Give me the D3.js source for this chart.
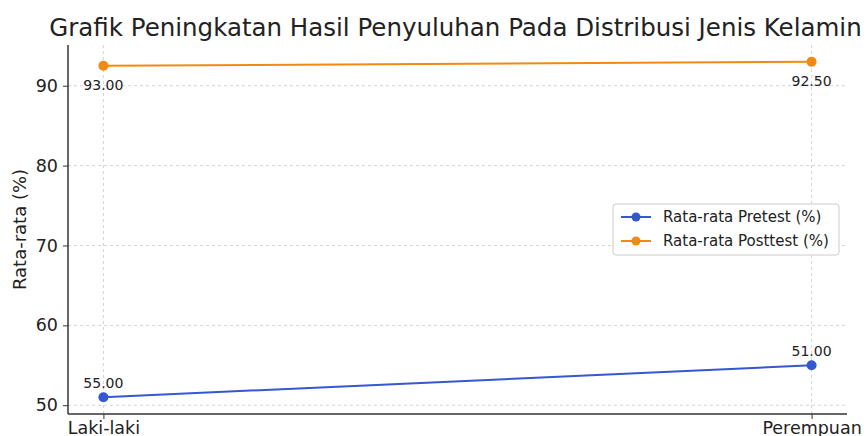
<!DOCTYPE html>
<html>
<head>
<meta charset="utf-8">
<script src="https://cdn.jsdelivr.net/npm/d3@7"></script>
<style>
  body { margin: 0; background: #fff; }
  svg { font-family: "DejaVu Sans", sans-serif; }
</style>
</head>
<body>
<div id="chart"></div>
<script>
// data
const categories = ["Laki-laki", "Perempuan"];
const pretest = [51, 55];
const posttest = [92.5, 93];
// the printed labels in the original do not match the plotted points
const pretestLabels = ["55.00", "51.00"];
const posttestLabels = ["93.00", "92.50"];
const yTicks = [50, 60, 70, 80, 90];
const seriesNames = ["Rata-rata Pretest (%)", "Rata-rata Posttest (%)"];
const seriesColors = ["#3457d2", "#f08a12"];

const width = 867, height = 436;
const margin = { top: 45, right: 20, bottom: 22, left: 68 };
const plotW = width - margin.left - margin.right,
    plotH = height - margin.top - margin.bottom;

const svg = d3.select("#chart").append("svg")
    .attr("width", width)
    .attr("height", height);

const g = svg.append("g")
    .attr("transform", `translate(${margin.left}, ${margin.top})`);

// matplotlib-ish 5% margins
const x = d3.scalePoint()
    .domain(categories)
    .range([plotW * 0.05 / 1.1, plotW - plotW * 0.05 / 1.1]);

const allVals = pretest.concat(posttest);
const lo = d3.min(allVals), hi = d3.max(allVals), pad = (hi - lo) * 0.05;
const y = d3.scaleLinear()
    .domain([lo - pad, hi + pad])
    .range([plotH, 0]);

// grid
g.append("g").selectAll("line.hg")
  .data(yTicks)
  .enter().append("line")
    .attr("x1", 0).attr("x2", plotW)
    .attr("y1", d => y(d)).attr("y2", d => y(d))
    .attr("stroke", "#d4d4d4").attr("stroke-width", 1)
    .attr("stroke-dasharray", "3,3");

g.append("g").selectAll("line.vg")
  .data(categories)
  .enter().append("line")
    .attr("x1", d => x(d)).attr("x2", d => x(d))
    .attr("y1", 0).attr("y2", plotH)
    .attr("stroke", "#d4d4d4").attr("stroke-width", 1)
    .attr("stroke-dasharray", "3,3");

// axes
const yAxis = g.append("g")
    .call(d3.axisLeft(y).tickValues(yTicks).tickSize(5).tickPadding(5));
const xAxis = g.append("g")
    .attr("transform", `translate(0, ${plotH})`)
    .call(d3.axisBottom(x).tickSize(5).tickPadding(3));

[yAxis, xAxis].forEach(a => {
    a.select(".domain").attr("stroke", "#333").attr("stroke-width", 1.5);
    a.selectAll(".tick line").attr("stroke", "#333");
    a.selectAll("text")
        .attr("font-family", "DejaVu Sans, sans-serif")
        .attr("font-size", 17.5)
        .attr("fill", "#222");
});
// remove outer ticks from the domain path
yAxis.select(".domain").attr("d", `M0,0V${plotH}`);
xAxis.select(".domain").attr("d", `M0,0H${plotW}`);

// lines and points
const line = d3.line()
    .x((d, i) => x(categories[i]))
    .y(d => y(d));

[pretest, posttest].forEach((vals, s) => {
    g.append("path")
        .datum(vals)
        .attr("fill", "none")
        .attr("stroke", seriesColors[s])
        .attr("stroke-width", 2)
        .attr("d", line);
    g.selectAll(".pt" + s)
      .data(vals)
      .enter().append("circle")
        .attr("cx", (d, i) => x(categories[i]))
        .attr("cy", d => y(d))
        .attr("r", 5)
        .attr("fill", seriesColors[s]);
});

// value labels
g.selectAll(".lblPre")
  .data(pretest)
  .enter().append("text")
    .attr("x", (d, i) => x(categories[i]))
    .attr("y", d => y(d) - 9)
    .attr("text-anchor", "middle")
    .attr("font-size", 14)
    .attr("fill", "#222")
    .text((d, i) => pretestLabels[i]);

g.selectAll(".lblPost")
  .data(posttest)
  .enter().append("text")
    .attr("x", (d, i) => x(categories[i]))
    .attr("y", d => y(d) + 24)
    .attr("text-anchor", "middle")
    .attr("font-size", 14)
    .attr("fill", "#222")
    .text((d, i) => posttestLabels[i]);

// title
svg.append("text")
    .attr("x", margin.left + plotW / 2 - 2)
    .attr("y", 36)
    .attr("text-anchor", "middle")
    .attr("font-size", 24.5)
    .attr("fill", "#222")
    .text("Grafik Peningkatan Hasil Penyuluhan Pada Distribusi Jenis Kelamin");

// y label
svg.append("text")
    .attr("transform", `translate(26, ${margin.top + plotH / 2}) rotate(-90)`)
    .attr("text-anchor", "middle")
    .attr("font-size", 18)
    .attr("fill", "#222")
    .text("Rata-rata (%)");

// legend
const lg = svg.append("g").attr("transform", "translate(613, 204)");
lg.append("rect")
    .attr("width", 226).attr("height", 51)
    .attr("rx", 3)
    .attr("fill", "#fff").attr("fill-opacity", 0.85)
    .attr("stroke", "#cccccc");
seriesNames.forEach((name, i) => {
    const yy = 13 + i * 24;
    lg.append("line")
        .attr("x1", 8).attr("x2", 38)
        .attr("y1", yy).attr("y2", yy)
        .attr("stroke", seriesColors[i]).attr("stroke-width", 2);
    lg.append("circle")
        .attr("cx", 23).attr("cy", yy).attr("r", 4.5)
        .attr("fill", seriesColors[i]);
    lg.append("text")
        .attr("x", 50).attr("y", yy + 5)
        .attr("font-size", 15)
        .attr("fill", "#222")
        .text(name);
});
</script>
</body>
</html>
